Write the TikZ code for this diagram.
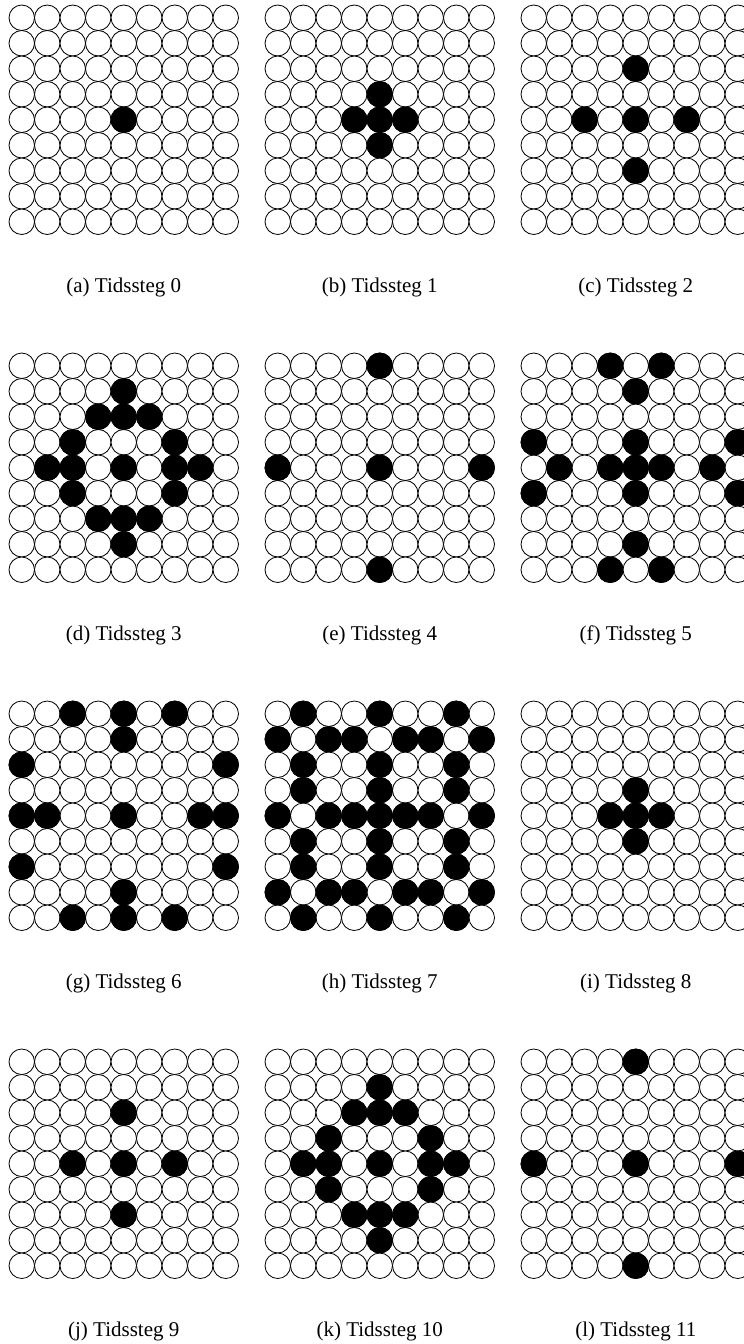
\documentclass[tikz,border=0pt]{standalone}
\usepackage{fontspec}
\setmainfont{Liberation Serif}
\tikzset{
  cell/.style={circle, draw=black, line width=0.8pt, fill=white, minimum size=25.5pt, inner sep=0pt},
  oncell/.style={cell, fill=black},
  captxt/.style={font=\fontsize{21}{25}\selectfont, anchor=base, inner sep=0pt}
}
\newcommand\drawgrid[5]{%
  \foreach \r in {0,...,8}{\foreach \c in {0,...,8}{%
    \node[cell] (#1-\r-\c) at ({#2+12.75+25.5*\c},{#3+12.75+25.5*\r}) {};}}
  \foreach \r/\c in #4{%
    \node[oncell] (#1on-\r-\c) at ({#2+12.75+25.5*\c},{#3+12.75+25.5*\r}) {};}
  \node[captxt] (#1-lab) at ({#2+114.75},{#3+229.5+58}) {#5};
}
\begin{document}
\begin{tikzpicture}[x=1pt,y=-1pt]
\clip (0,0) rectangle (744,1344);
\fill[white] (0,0) rectangle (744,1344);
\def\pA{4/4}
\def\pB{3/4,4/3,4/4,4/5,5/4}
\def\pC{2/4,4/2,4/4,4/6,6/4}
\def\pD{1/4,2/3,2/4,2/5,3/2,3/6,4/1,4/2,4/4,4/6,4/7,5/2,5/6,6/3,6/4,6/5,7/4}
\def\pE{0/4,4/0,4/4,4/8,8/4}
\def\pF{0/3,0/5,1/4,3/0,3/4,3/8,4/1,4/3,4/4,4/5,4/7,5/0,5/4,5/8,7/4,8/3,8/5}
\def\pG{0/2,0/4,0/6,1/4,2/0,2/8,4/0,4/1,4/4,4/7,4/8,6/0,6/8,7/4,8/2,8/4,8/6}
\def\pH{0/1,0/4,0/7,1/0,1/2,1/3,1/5,1/6,1/8,2/1,2/4,2/7,3/1,3/4,3/7,4/0,4/2,4/3,4/4,4/5,4/6,4/8,5/1,5/4,5/7,6/1,6/4,6/7,7/0,7/2,7/3,7/5,7/6,7/8,8/1,8/4,8/7}
\drawgrid{ga}{9}{5}{\pA}{(a) Tidssteg 0}
\drawgrid{gb}{265}{5}{\pB}{(b) Tidssteg 1}
\drawgrid{gc}{521}{5}{\pC}{(c) Tidssteg 2}
\drawgrid{gd}{9}{353}{\pD}{(d) Tidssteg 3}
\drawgrid{ge}{265}{353}{\pE}{(e) Tidssteg 4}
\drawgrid{gf}{521}{353}{\pF}{(f) Tidssteg 5}
\drawgrid{gg}{9}{701}{\pG}{(g) Tidssteg 6}
\drawgrid{gh}{265}{701}{\pH}{(h) Tidssteg 7}
\drawgrid{gi}{521}{701}{\pB}{(i) Tidssteg 8}
\drawgrid{gj}{9}{1049}{\pC}{(j) Tidssteg 9}
\drawgrid{gk}{265}{1049}{\pD}{(k) Tidssteg 10}
\drawgrid{gl}{521}{1049}{\pE}{(l) Tidssteg 11}
\end{tikzpicture}
\end{document}
